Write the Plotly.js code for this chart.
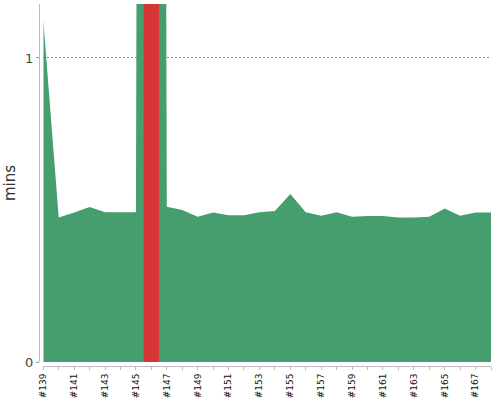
<!DOCTYPE html>
<html>
<head>
<meta charset="utf-8">
<script src="https://cdn.plot.ly/plotly-3.0.1.min.js"></script>
<style>html,body{margin:0;padding:0;background:#fff;}#chart{width:500px;height:400px;}</style>
</head>
<body>
<div id="chart"></div>
<script>
// Build labels (x categories)
const builds = ['#139','#140','#141','#142','#143','#144','#145','#146','#147','#148',
                '#149','#150','#151','#152','#153','#154','#155','#156','#157','#158',
                '#159','#160','#161','#162','#163','#164','#165','#166','#167','#168'];
// Build durations in minutes (#146 goes far off the top)
const durations = [1.125,0.475,0.492,0.51,0.493,0.493,0.493,20,0.511,0.5,
                   0.478,0.492,0.483,0.483,0.493,0.497,0.553,0.493,0.481,0.493,
                   0.478,0.48,0.48,0.475,0.475,0.478,0.505,0.481,0.492,0.492];
// Failed build(s)
const failedBuilds = ['#146'];
const failedDurations = [20];
// Tick labels: every other build
const tickLabels = builds.map((b, i) => (i % 2 === 0 ? b : ''));
const yTicks = [0, 1];

const data = [
  {
    type: 'scatter', x: builds, y: durations, mode: 'none',
    fill: 'tozeroy', fillcolor: '#469e6f', hoverinfo: 'skip',
    xaxis: 'x', yaxis: 'y'
  },
  {
    type: 'bar', x: failedBuilds, y: failedDurations, width: 1,
    marker: {color: '#d73636', line: {width: 0}},
    xaxis: 'x', yaxis: 'y2'
  }
];

const yRange = [0, 1.1776];
const layout = {
  width: 500, height: 400,
  margin: {l: 39, r: 9, t: 4, b: 34},
  paper_bgcolor: '#fff', plot_bgcolor: '#fff',
  showlegend: false,
  font: {family: 'DejaVu Sans', color: '#333'},
  xaxis: {
    type: 'category',
    domain: [0.0095, 1],
    range: [0, builds.length - 1],
    anchor: 'free', position: 0,
    tickmode: 'array', tickvals: builds, ticktext: tickLabels,
    tickangle: -90,
    ticks: 'outside', ticklen: 3, tickcolor: '#bbb',
    tickfont: {size: 9, color: '#111', family: 'DejaVu Sans'},
    showline: true, linecolor: '#bbb', linewidth: 1,
    showgrid: false, zeroline: false, fixedrange: true
  },
  yaxis: {
    domain: [0.011, 1],
    range: yRange,
    anchor: 'free', position: 0,
    tickmode: 'array', tickvals: yTicks,
    ticks: 'outside', ticklen: 3, tickcolor: '#999',
    tickfont: {size: 13, color: '#444', family: 'DejaVu Sans'},
    showline: true, linecolor: '#bbb', linewidth: 1,
    showgrid: true, gridcolor: '#888', griddash: '2px,2px', gridwidth: 1,
    zeroline: false,
    title: {text: 'mins', font: {size: 15, color: '#333', family: 'DejaVu Sans'}, standoff: 4},
    fixedrange: true
  },
  yaxis2: {
    overlaying: 'y', range: yRange, visible: false, fixedrange: true
  }
};

Plotly.newPlot('chart', data, layout, {displayModeBar: false, staticPlot: true});
</script>
</body>
</html>
